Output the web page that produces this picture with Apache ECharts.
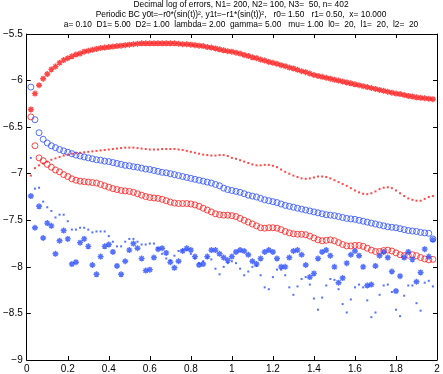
<!DOCTYPE html>
<html>
<head>
<meta charset="utf-8">
<script src="https://cdn.jsdelivr.net/npm/echarts@6/dist/echarts.min.js"></script>
<style>
  html, body { margin: 0; padding: 0; background: #fff; }
  #main { width: 443px; height: 374px; }
</style>
</head>
<body>
<div id="main"></div>
<script>
// sample grid (x) and the six error curves
var xs = [0.02,0.04,0.06,0.08,0.10,0.12,0.14,0.16,0.18,0.20,0.22,0.24,0.26,0.28,0.30,0.32,0.34,0.36,0.38,0.40,
  0.42,0.44,0.46,0.48,0.50,0.52,0.54,0.56,0.58,0.60,0.62,0.64,0.66,0.68,0.70,0.72,0.74,0.76,0.78,0.80,
  0.82,0.84,0.86,0.88,0.90,0.92,0.94,0.96,0.98,1.00,1.02,1.04,1.06,1.08,1.10,1.12,1.14,1.16,1.18,1.20,
  1.22,1.24,1.26,1.28,1.30,1.32,1.34,1.36,1.38,1.40,1.42,1.44,1.46,1.48,1.50,1.52,1.54,1.56,1.58,1.60,
  1.62,1.64,1.66,1.68,1.70,1.72,1.74,1.76,1.78,1.80,1.82,1.84,1.86,1.88,1.90,1.92,1.94,1.96,1.98];

var redStars = [-6.31,-6.14,-6.05,-5.98,-5.93,-5.88,-5.85,-5.81,-5.78,-5.76,-5.74,-5.72,-5.71,-5.69,-5.68,-5.67,-5.66,-5.65,-5.645,-5.64,
  -5.635,-5.63,-5.625,-5.62,-5.615,-5.61,-5.605,-5.60,-5.60,-5.60,-5.60,-5.60,-5.60,-5.60,-5.60,-5.60,-5.605,-5.61,-5.61,-5.615,
  -5.62,-5.625,-5.63,-5.64,-5.645,-5.655,-5.665,-5.675,-5.685,-5.69,-5.70,-5.71,-5.725,-5.735,-5.75,-5.76,-5.775,-5.785,-5.80,-5.81,
  -5.82,-5.835,-5.845,-5.86,-5.87,-5.885,-5.90,-5.91,-5.925,-5.94,-5.95,-5.96,-5.97,-5.98,-5.99,-6.00,-6.01,-6.02,-6.03,-6.04,
  -6.05,-6.06,-6.07,-6.08,-6.09,-6.10,-6.11,-6.12,-6.13,-6.14,-6.145,-6.155,-6.165,-6.17,-6.18,-6.185,-6.19,-6.195,-6.20];

var blueCircles = [-6.07,-6.42,-6.56,-6.63,-6.67,-6.70,-6.72,-6.74,-6.755,-6.77,-6.785,-6.80,-6.81,-6.82,-6.83,-6.84,-6.85,-6.855,-6.865,-6.87,
  -6.88,-6.89,-6.90,-6.91,-6.915,-6.925,-6.93,-6.94,-6.95,-6.955,-6.965,-6.975,-6.985,-6.99,-7.00,-7.01,-7.02,-7.03,-7.04,-7.05,
  -7.06,-7.07,-7.08,-7.09,-7.10,-7.115,-7.13,-7.155,-7.17,-7.18,-7.19,-7.20,-7.215,-7.23,-7.24,-7.25,-7.265,-7.28,-7.29,-7.30,
  -7.31,-7.325,-7.34,-7.35,-7.36,-7.37,-7.38,-7.39,-7.40,-7.41,-7.42,-7.43,-7.44,-7.445,-7.45,-7.46,-7.47,-7.48,-7.485,-7.49,
  -7.50,-7.51,-7.52,-7.53,-7.54,-7.55,-7.56,-7.57,-7.575,-7.58,-7.59,-7.60,-7.61,-7.615,-7.62,-7.63,-7.635,-7.64,-7.70];

var redDots = [-7.02,-6.94,-6.91,-6.89,-6.87,-6.85,-6.835,-6.82,-6.805,-6.795,-6.785,-6.78,-6.775,-6.77,-6.765,-6.76,-6.755,-6.75,-6.745,-6.74,
  -6.735,-6.73,-6.725,-6.72,-6.72,-6.72,-6.725,-6.73,-6.735,-6.74,-6.74,-6.74,-6.735,-6.735,-6.735,-6.735,-6.74,-6.745,-6.755,-6.765,
  -6.775,-6.785,-6.795,-6.80,-6.805,-6.805,-6.80,-6.80,-6.81,-6.83,-6.84,-6.855,-6.87,-6.885,-6.90,-6.91,-6.91,-6.905,-6.905,-6.915,
  -6.93,-6.955,-6.98,-7.00,-7.02,-7.035,-7.05,-7.055,-7.05,-7.04,-7.03,-7.03,-7.035,-7.05,-7.07,-7.09,-7.11,-7.13,-7.155,-7.18,
  -7.20,-7.215,-7.22,-7.21,-7.19,-7.165,-7.15,-7.145,-7.155,-7.18,-7.21,-7.24,-7.265,-7.28,-7.29,-7.29,-7.27,-7.25,-7.24];

var redCircles = [-6.39,-6.70,-6.83,-6.86,-6.90,-6.93,-6.96,-6.98,-7.01,-7.03,-7.055,-7.07,-7.08,-7.085,-7.09,-7.095,-7.10,-7.115,-7.13,-7.145,
  -7.16,-7.17,-7.18,-7.185,-7.19,-7.20,-7.215,-7.23,-7.245,-7.255,-7.26,-7.265,-7.275,-7.29,-7.305,-7.315,-7.32,-7.32,-7.32,-7.325,
  -7.335,-7.35,-7.37,-7.39,-7.41,-7.43,-7.44,-7.445,-7.445,-7.45,-7.46,-7.48,-7.50,-7.52,-7.54,-7.56,-7.58,-7.585,-7.58,-7.58,
  -7.585,-7.60,-7.62,-7.635,-7.645,-7.65,-7.65,-7.655,-7.67,-7.69,-7.71,-7.72,-7.715,-7.71,-7.72,-7.74,-7.76,-7.775,-7.775,-7.77,
  -7.77,-7.78,-7.80,-7.82,-7.835,-7.835,-7.825,-7.82,-7.83,-7.85,-7.87,-7.88,-7.875,-7.87,-7.88,-7.90,-7.915,-7.925,-7.92];

var blueStars = [-7.24,-7.58,-7.35,-7.69,-7.53,-7.56,-7.86,-7.72,-7.61,-7.70,-7.97,-7.95,-7.74,-7.70,-7.78,-7.98,-8.08,-7.89,-7.78,-7.76,
  -7.84,-7.99,-8.08,-7.94,-7.82,-7.75,-7.80,-7.91,-8.04,-8.03,-7.90,-7.81,-7.80,-7.85,-7.95,-8.01,-7.94,-7.83,-7.80,-7.82,
  -7.89,-7.98,-7.97,-7.89,-7.82,-7.82,-7.86,-7.90,-7.93,-7.89,-7.84,-7.82,-7.83,-7.87,-7.94,-7.97,-7.91,-7.84,-7.82,-7.84,
  -7.91,-8.00,-8.00,-7.90,-7.83,-7.82,-7.87,-7.98,-8.11,-8.07,-7.91,-7.84,-7.82,-7.88,-8.00,-8.17,-8.12,-7.96,-7.87,-7.83,
  -7.88,-8.00,-8.20,-8.19,-7.99,-7.88,-7.84,-7.90,-8.05,-8.26,-8.10,-7.90,-7.84,-7.92,-8.16,-8.06,-7.81,-7.89,-7.71];

var blueDots = [-6.83,-7.16,-7.15,-7.30,-7.36,-7.40,-7.47,-7.44,-7.44,-7.51,-7.60,-7.60,-7.58,-7.58,-7.60,-7.63,-7.62,-7.62,-7.62,-7.67,
  -7.73,-7.78,-7.78,-7.73,-7.70,-7.70,-7.73,-7.76,-7.76,-7.75,-7.75,-7.80,-7.86,-7.91,-7.93,-7.88,-7.83,-7.82,-7.82,-7.86,
  -7.91,-7.96,-7.94,-7.90,-7.92,-8.02,-8.08,-8.00,-7.96,-7.94,-7.96,-8.02,-8.09,-8.05,-8.00,-7.99,-8.09,-8.22,-8.24,-8.11,
  -8.03,-8.03,-8.09,-8.22,-8.30,-8.21,-8.13,-8.11,-8.19,-8.34,-8.46,-8.33,-8.20,-8.13,-8.14,-8.24,-8.40,-8.49,-8.35,-8.22,
  -8.19,-8.22,-8.36,-8.54,-8.49,-8.30,-8.20,-8.19,-8.27,-8.46,-8.53,-8.31,-8.20,-8.20,-8.39,-8.47,-8.17,-8.15,-8.21];

var titleLines = [
  'Decimal log of errors, N1= 200, N2= 100, N3=  50, n= 402',
  'Periodic BC y0t=\u2212r0*(sin(t))\u00b2, y1t=\u2212r1*(sin(t))\u00b2,   r0= 1.50   r1= 0.50,  x= 10.000',
  'a= 0.10  D1= 5.00  D2= 1.00  lambda= 2.00  gamma= 5.00   mu= 1.00  l0=  20,  l1=  20,  l2=  20'
];

var RED = '#ff1a1a', BLUE = '#2b4dff';
var star = 'path://M5,0L5,10M0,5L10,5M1.5,1.5L8.5,8.5M8.5,1.5L1.5,8.5';

function pairs(ys) {
  return ys.map(function (y, i) { return [xs[i], y]; });
}

var chart = echarts.init(document.getElementById('main'));

var axisCommon = {
  axisLine: { show: true, onZero: false, lineStyle: { color: '#000', width: 1 } },
  axisTick: { show: true, inside: true, length: 4, lineStyle: { color: '#000' } },
  splitLine: { show: false }
};

chart.setOption({
  animation: false,
  backgroundColor: '#fff',
  grid: { left: 22, right: 6, top: 34, bottom: 12 },
  graphic: [{
    type: 'text', x: 241, y: 0,
    style: {
      text: titleLines.join('\n'),
      font: '8.4px "Liberation Sans", Arial, sans-serif',
      lineHeight: 10,
      textAlign: 'center',
      fill: '#000'
    }
  }],
  xAxis: [
    echarts.util.merge({
      type: 'value', min: 0, max: 2, interval: 0.2, position: 'bottom',
      axisLabel: {
        color: '#000', fontSize: 10, margin: 4, fontFamily: '"Liberation Sans", Arial, sans-serif',
        formatter: function (v) { return String(+v.toFixed(1)); }
      }
    }, axisCommon, true),
    echarts.util.merge({
      type: 'value', min: 0, max: 2, interval: 0.2, position: 'top',
      axisLabel: { show: false }
    }, axisCommon, true)
  ],
  yAxis: [
    echarts.util.merge({
      type: 'value', min: -9, max: -5.5, interval: 0.5, position: 'left',
      axisLabel: {
        color: '#000', fontSize: 10, margin: 4, fontFamily: '"Liberation Sans", Arial, sans-serif',
        formatter: function (v) { return String(+v.toFixed(1)).replace('-', '\u2212'); }
      }
    }, axisCommon, true),
    echarts.util.merge({
      type: 'value', min: -9, max: -5.5, interval: 0.5, position: 'right',
      axisLabel: { show: false }
    }, axisCommon, true)
  ],
  series: [
    {
      name: 'red stars', type: 'scatter', data: pairs(redStars),
      symbol: star, symbolSize: 6,
      itemStyle: { color: 'none', borderColor: RED, borderWidth: 1.4 }
    },
    {
      name: 'blue circles', type: 'scatter', data: pairs(blueCircles),
      symbol: 'circle', symbolSize: 6,
      itemStyle: { color: 'none', borderColor: BLUE, borderWidth: 1 }
    },
    {
      name: 'red dots', type: 'scatter', data: pairs(redDots),
      symbol: 'rect', symbolSize: 2,
      itemStyle: { color: RED }
    },
    {
      name: 'red circles', type: 'scatter', data: pairs(redCircles),
      symbol: 'circle', symbolSize: 6,
      itemStyle: { color: 'none', borderColor: RED, borderWidth: 1 }
    },
    {
      name: 'blue stars', type: 'scatter', data: pairs(blueStars),
      symbol: star, symbolSize: 6,
      itemStyle: { color: 'none', borderColor: BLUE, borderWidth: 1.4 }
    },
    {
      name: 'blue dots', type: 'scatter', data: pairs(blueDots),
      symbol: 'rect', symbolSize: 2,
      itemStyle: { color: BLUE }
    }
  ]
});
</script>
</body>
</html>
